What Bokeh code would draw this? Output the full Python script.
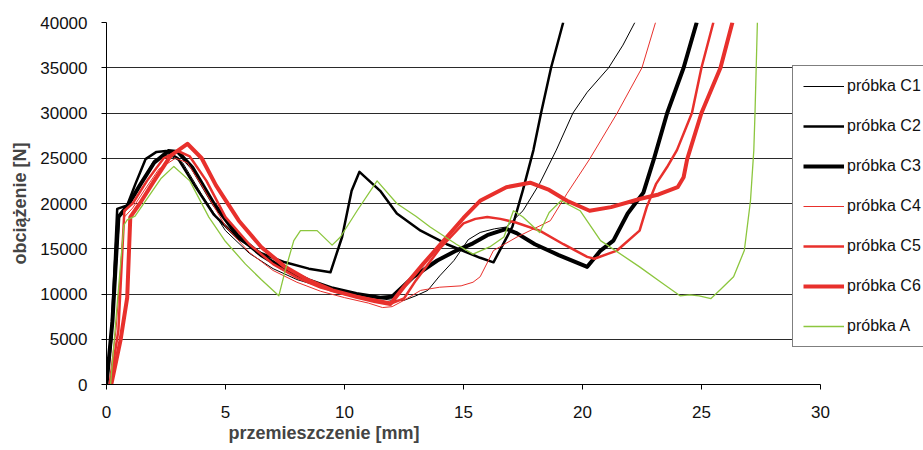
from bokeh.plotting import figure
from bokeh.models import Legend, LegendItem, FixedTicker, Title, Range1d
from bokeh.embed import file_html
from bokeh.resources import INLINE

# ---- data ----
c1_x = [0, 0.3, 0.55, 0.9, 1.5, 2.0, 2.6, 3.2, 4.0, 5.0, 6.0, 7.0, 8.0, 9.0, 10.0, 11.0, 12.0, 12.5, 13.0,
        13.5, 14.0, 14.6, 15.2, 15.7, 16.3, 16.8, 17.5, 18.2, 18.9, 19.6, 20.2, 21.1, 21.7, 22.2]
c1_y = [0, 8000, 18500, 19500, 22500, 24800, 25400, 24500, 21000, 17000, 14500, 12800, 11600, 10800, 10200,
        9700, 9300, 9300, 9800, 10400, 12000, 13700, 16000, 16800, 17200, 17400, 19200, 22200, 25900, 30000,
        32300, 35000, 37500, 40000]

c2_x = [0, 0.2, 0.45, 0.87, 1.22, 1.64, 2.1, 2.5, 3.0, 3.7, 4.5, 5.5, 6.5, 7.5, 8.5, 9.41, 9.9, 10.3, 10.63,
        11.5, 12.2, 13.2, 14.3, 15.7, 16.26, 17.05, 17.5, 17.94, 18.26, 18.68, 19.19]
c2_y = [0, 5000, 19400, 19800, 22200, 24900, 25700, 25800, 25000, 22000, 18800, 16200, 14500, 13500, 12800,
        12400, 16300, 21400, 23500, 21400, 18900, 17000, 15500, 14000, 13500, 17400, 21500, 25900, 30000,
        35000, 40000]

c3_x = [0, 0.25, 0.5, 0.9, 1.4, 2.0, 2.6, 3.0, 3.6, 4.5, 5.5, 6.5, 7.5, 8.5, 9.5, 10.5, 11.5, 12.0, 12.9,
        13.9, 14.7, 15.4, 16.0, 16.8, 17.25, 18.0, 19.0, 20.2, 20.76, 21.3, 21.9, 22.56, 23.0, 23.56, 24.25,
        24.8]
c3_y = [0, 7000, 18500, 19800, 22000, 24500, 25800, 25700, 24000, 20000, 16500, 14300, 12700, 11500, 10600,
        10000, 9600, 9700, 11900, 13700, 14800, 15600, 16500, 17200, 16700, 15500, 14300, 13000, 14800, 15900,
        18900, 21200, 24900, 30000, 35000, 40000]

c4_x = [0.1, 0.4, 0.75, 1.1, 1.6, 2.2, 2.9, 3.4, 4.0, 5.0, 6.0, 7.0, 8.0, 9.0, 10.0, 11.0, 11.6, 12.0, 12.5,
        13.2, 14.0, 14.9, 15.4, 15.7, 16.26, 17.25, 18.65, 19.35, 20.3, 21.46, 22.5, 23.07]
c4_y = [0, 6000, 18500, 19500, 21500, 23800, 25000, 24500, 22000, 17500, 14600, 12600, 11300, 10300, 9600,
        9000, 8500, 8600, 9300, 10400, 10750, 10900, 11300, 11900, 14800, 16300, 18100, 21100, 24900, 30000,
        35000, 40000]

c5_x = [0.15, 0.5, 0.75, 1.1, 1.7, 2.4, 3.0, 3.5, 4.2, 5.0, 6.0, 7.0, 8.0, 9.0, 10.0, 11.0, 12.0, 12.5, 13.0,
        14.0, 15.0, 15.5, 16.0, 16.55, 17.2, 18.2, 19.2, 20.2, 20.5, 21.45, 22.4, 22.7, 23.1, 23.55, 23.97,
        24.6, 25.0, 25.5]
c5_y = [0, 6000, 19200, 20000, 22500, 25000, 25800, 25200, 22500, 18500, 15500, 13300, 11800, 10700, 10000,
        9500, 9000, 9500, 11500, 15000, 17800, 18300, 18500, 18300, 17900, 17000, 15500, 14100, 13900, 14800,
        17000, 19600, 22200, 24000, 25900, 30000, 35000, 40000]

c6_x = [0.2, 0.59, 0.87, 1.0, 1.4, 2.0, 2.7, 3.4, 4.0, 4.6, 5.56, 6.5, 7.5, 8.5, 9.5, 10.5, 11.3, 11.93, 12.5,
        13.3, 14.3, 15.0, 15.7, 16.8, 17.8, 18.6, 19.35, 20.3, 21.2, 22.4, 23.2, 24.0, 24.25, 24.4, 25.0, 25.8,
        26.3]
c6_y = [0, 4900, 9600, 18500, 20000, 22500, 25300, 26600, 25000, 22000, 18100, 15200, 13000, 11500, 10400,
        9700, 9200, 8900, 10800, 13300, 16300, 18400, 20300, 21800, 22300, 21500, 20300, 19200, 19600, 20500,
        21000, 21800, 22900, 24900, 30000, 35000, 40000]

a_x = [0.17, 0.45, 0.73, 0.87, 1.2, 1.7, 2.3, 2.83, 3.5, 4.3, 5.0, 5.84, 6.5, 7.24, 7.5, 7.87, 8.15, 8.85,
       9.48, 9.83, 10.53, 11.37, 12.2, 13.0, 13.6, 14.7, 15.4, 16.1, 16.7, 17.1, 17.5, 18.2, 18.6, 19.1, 19.9,
       20.76, 22.4, 23.3, 24.1, 24.5, 24.9, 25.4, 25.8, 26.35, 26.8, 27.06, 27.2, 27.25, 27.3, 27.35]
a_y = [0, 8900, 17600, 18200, 18600, 20500, 22800, 24100, 22500, 18500, 15800, 13300, 11600, 9800, 12500,
       15900, 17000, 17000, 15400, 16300, 19200, 22500, 20000, 18600, 17400, 15500, 14400, 15200, 16300, 19200,
       18500, 16800, 19000, 20300, 19200, 15900, 13000, 11300, 9800, 9900, 9800, 9500, 10500, 11900, 14800,
       20300, 25900, 30000, 35000, 40000]

series_names = ["próbka C1", "próbka C2", "próbka C3", "próbka C4", "próbka C5", "próbka C6", "próbka A"]
x_ticks = [0, 5, 10, 15, 20, 25, 30]
y_ticks = [0, 5000, 10000, 15000, 20000, 25000, 30000, 35000, 40000]
x_label = "przemieszczenie [mm]"
y_label = "obciążenie [N]"

BLACK = "#000000"
RED = "#e8302c"
GREEN = "#8cc63e"
FONT = "Liberation Sans"
GRID = "#2a2a2a"

# the frame runs to the right edge of the canvas so that the legend (which
# overhangs the plot area in the original) is not clipped; the axis and the
# grid lines are bounded to the 0..30 data extent.
p = figure(width=923, height=450, output_backend="svg", toolbar_location=None,
           x_range=Range1d(0, 34.33), y_range=Range1d(0, 40000),
           min_border_left=106, min_border_right=0, min_border_top=22, min_border_bottom=66)
p.outline_line_color = None
p.background_fill_color = "white"
p.border_fill_color = "white"

p.xgrid.grid_line_color = None
grid_ok = True
try:
    p.ygrid.cross_bounds = (x_ticks[0], x_ticks[-1])
except Exception:
    grid_ok = False
if grid_ok:
    p.ygrid.grid_line_color = GRID
    p.ygrid.grid_line_width = 1.2
else:
    p.ygrid.grid_line_color = None
    p.segment(x0=[x_ticks[0]] * len(y_ticks), x1=[x_ticks[-1]] * len(y_ticks),
              y0=y_ticks, y1=y_ticks, line_color=GRID, line_width=1.2, level="underlay")

for ax in (p.xaxis[0], p.yaxis[0]):
    ax.axis_line_color = "black"
    ax.axis_line_width = 1
    ax.major_tick_line_color = "black"
    ax.major_tick_in = 0
    ax.major_tick_out = 5
    ax.minor_tick_line_color = None
    ax.major_label_text_font = FONT
    ax.major_label_text_font_size = "17px"
    ax.major_label_text_color = "#111111"
p.xaxis.bounds = (x_ticks[0], x_ticks[-1])
p.xaxis.ticker = FixedTicker(ticks=x_ticks)
p.yaxis.ticker = FixedTicker(ticks=y_ticks)
p.xaxis.major_label_standoff = 16
p.yaxis.major_label_standoff = 14
p.yaxis.axis_label = y_label
p.yaxis.axis_label_text_font = FONT
p.yaxis.axis_label_text_font_size = "18px"
p.yaxis.axis_label_text_font_style = "bold"
p.yaxis.axis_label_standoff = 7

p.add_layout(Title(text=x_label, align="left", offset=122, standoff=0,
                   text_font=FONT, text_font_size="18px", text_font_style="bold"), "below")

series = [
    (c1_x, c1_y, BLACK, 1.0),
    (c2_x, c2_y, BLACK, 2.5),
    (c3_x, c3_y, BLACK, 4.0),
    (c4_x, c4_y, RED, 1.0),
    (c5_x, c5_y, RED, 2.5),
    (c6_x, c6_y, RED, 4.0),
    (a_x, a_y, GREEN, 1.3),
]
items = []
for (xs, ys, col, w), name in zip(series, series_names):
    r = p.line(xs, ys, line_color=col, line_width=w, line_join="round")
    items.append(LegendItem(label=name, renderers=[r]))

legend = Legend(items=items, location=(686, 37), orientation="vertical",
                label_text_font=FONT, label_text_font_size="16px", label_text_color="#111111",
                glyph_width=41, glyph_height=20, label_height=20, spacing=20, padding=10,
                label_standoff=3, margin=0,
                border_line_color="black", border_line_width=1,
                background_fill_color="white", background_fill_alpha=1.0)
p.add_layout(legend, "center")

open("out.html", "w").write(file_html(p, INLINE))
